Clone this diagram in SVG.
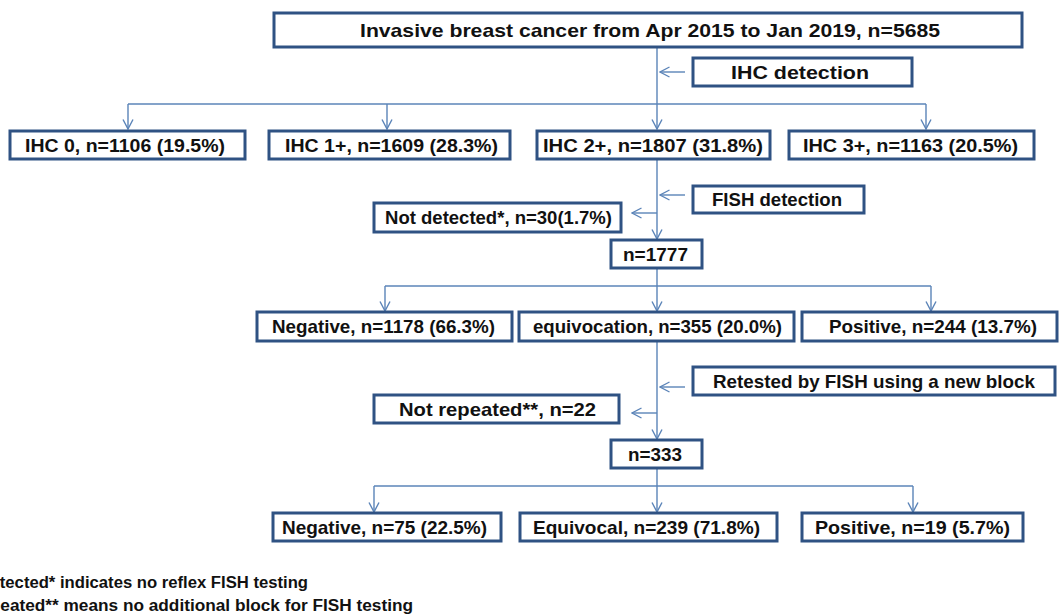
<svg xmlns="http://www.w3.org/2000/svg" width="1059" height="616" viewBox="0 0 1059 616">
  <style>
    .box { fill: #ffffff; stroke: #2F5283; stroke-width: 3; }
    .lbl { font-family: "Liberation Sans Narrow", "Liberation Sans", Arial, sans-serif; font-weight: bold; font-size: 18.5px; fill: #111111; text-anchor: middle; }
    .con { fill: none; stroke: #5B84B8; stroke-width: 1.4; }
    .note { font-family: "Liberation Sans Narrow", "Liberation Sans", Arial, sans-serif; font-weight: bold; font-size: 16px; fill: #111111; }
  </style>
  <defs>
    <marker id="arr" markerUnits="userSpaceOnUse" markerWidth="12" markerHeight="12" viewBox="0 -6 10 12" refX="9.5" refY="0" orient="auto">
      <path d="M0,-5 L9.5,0 L0,5" fill="none" stroke="#5B84B8" stroke-width="1.4"/>
    </marker>
  </defs>
  <rect width="1059" height="616" fill="#ffffff"/>

  <g id="connectors">
    <path class="con" d="M657,47 V104"/>
    <path class="con" d="M685,72 H660" marker-end="url(#arr)"/>
    <path class="con" d="M128,104 H926"/>
    <path class="con" d="M128,104 V129" marker-end="url(#arr)"/>
    <path class="con" d="M387,104 V129" marker-end="url(#arr)"/>
    <path class="con" d="M657,104 V129" marker-end="url(#arr)"/>
    <path class="con" d="M926,104 V129" marker-end="url(#arr)"/>
    <path class="con" d="M657,160 V239" marker-end="url(#arr)"/>
    <path class="con" d="M685,195 H660" marker-end="url(#arr)"/>
    <path class="con" d="M657,213 H632" marker-end="url(#arr)"/>
    <path class="con" d="M657,269 V286"/>
    <path class="con" d="M385,286 H931"/>
    <path class="con" d="M385,286 V311" marker-end="url(#arr)"/>
    <path class="con" d="M657,286 V311" marker-end="url(#arr)"/>
    <path class="con" d="M931,286 V311" marker-end="url(#arr)"/>
    <path class="con" d="M657,342 V439" marker-end="url(#arr)"/>
    <path class="con" d="M685,387 H660" marker-end="url(#arr)"/>
    <path class="con" d="M657,413 H632" marker-end="url(#arr)"/>
    <path class="con" d="M657,469 V486"/>
    <path class="con" d="M374,486 H913"/>
    <path class="con" d="M374,486 V512" marker-end="url(#arr)"/>
    <path class="con" d="M657,486 V512" marker-end="url(#arr)"/>
    <path class="con" d="M913,486 V512" marker-end="url(#arr)"/>
  </g>

  <g id="n-top">
    <rect class="box" x="274" y="13" width="748" height="34"/>
    <text class="lbl" x="650" y="37" font-size="20" textLength="580" lengthAdjust="spacingAndGlyphs">Invasive breast cancer from Apr 2015 to Jan 2019, n=5685</text>
  </g>
  <g id="n-ihcdet">
    <rect class="box" x="693" y="58" width="219" height="28"/>
    <text class="lbl" x="800" y="79" textLength="138" lengthAdjust="spacingAndGlyphs">IHC detection</text>
  </g>
  <g id="n-ihc0">
    <rect class="box" x="10" y="131" width="235" height="28"/>
    <text class="lbl" x="125" y="152" textLength="200" lengthAdjust="spacingAndGlyphs">IHC 0, n=1106 (19.5%)</text>
  </g>
  <g id="n-ihc1">
    <rect class="box" x="269" y="131" width="241" height="28"/>
    <text class="lbl" x="391.5" y="152" textLength="213" lengthAdjust="spacingAndGlyphs">IHC 1+, n=1609 (28.3%)</text>
  </g>
  <g id="n-ihc2">
    <rect class="box" x="537" y="131" width="233" height="28"/>
    <text class="lbl" x="653" y="152" textLength="220" lengthAdjust="spacingAndGlyphs">IHC 2+, n=1807 (31.8%)</text>
  </g>
  <g id="n-ihc3">
    <rect class="box" x="789" y="131" width="245" height="28"/>
    <text class="lbl" x="910.5" y="152" textLength="215" lengthAdjust="spacingAndGlyphs">IHC 3+, n=1163 (20.5%)</text>
  </g>
  <g id="n-fishdet">
    <rect class="box" x="693" y="186" width="171" height="27"/>
    <text class="lbl" x="777" y="206" textLength="130" lengthAdjust="spacingAndGlyphs">FISH detection</text>
  </g>
  <g id="n-notdet">
    <rect class="box" x="374" y="203" width="247" height="29"/>
    <text class="lbl" x="498.5" y="224" textLength="227" lengthAdjust="spacingAndGlyphs">Not detected*, n=30(1.7%)</text>
  </g>
  <g id="n-1777">
    <rect class="box" x="611" y="240" width="91" height="28"/>
    <text class="lbl" x="655.5" y="261" textLength="65" lengthAdjust="spacingAndGlyphs">n=1777</text>
  </g>
  <g id="n-neg1">
    <rect class="box" x="257" y="312" width="255" height="29"/>
    <text class="lbl" x="383.5" y="333" textLength="223" lengthAdjust="spacingAndGlyphs">Negative, n=1178 (66.3%)</text>
  </g>
  <g id="n-equiv1">
    <rect class="box" x="519" y="312" width="275" height="29"/>
    <text class="lbl" x="657.5" y="333" textLength="249" lengthAdjust="spacingAndGlyphs">equivocation, n=355 (20.0%)</text>
  </g>
  <g id="n-pos1">
    <rect class="box" x="802" y="312" width="255" height="29"/>
    <text class="lbl" x="933" y="333" textLength="208" lengthAdjust="spacingAndGlyphs">Positive, n=244 (13.7%)</text>
  </g>
  <g id="n-retest">
    <rect class="box" x="693" y="367" width="362" height="28"/>
    <text class="lbl" x="874" y="388" textLength="322" lengthAdjust="spacingAndGlyphs">Retested by FISH using a new block</text>
  </g>
  <g id="n-notrep">
    <rect class="box" x="374" y="395" width="245" height="28"/>
    <text class="lbl" x="497.5" y="416" textLength="197" lengthAdjust="spacingAndGlyphs">Not repeated**, n=22</text>
  </g>
  <g id="n-333">
    <rect class="box" x="611" y="440" width="91" height="28"/>
    <text class="lbl" x="655" y="461" textLength="54" lengthAdjust="spacingAndGlyphs">n=333</text>
  </g>
  <g id="n-neg2">
    <rect class="box" x="273" y="513" width="228" height="28"/>
    <text class="lbl" x="384.5" y="534" textLength="205" lengthAdjust="spacingAndGlyphs">Negative, n=75 (22.5%)</text>
  </g>
  <g id="n-equiv2">
    <rect class="box" x="520" y="513" width="257" height="28"/>
    <text class="lbl" x="646.5" y="534" textLength="227" lengthAdjust="spacingAndGlyphs">Equivocal, n=239 (71.8%)</text>
  </g>
  <g id="n-pos2">
    <rect class="box" x="802" y="513" width="221" height="28"/>
    <text class="lbl" x="912.5" y="534" textLength="195" lengthAdjust="spacingAndGlyphs">Positive, n=19 (5.7%)</text>
  </g>

  <g id="notes">
    <text class="note" x="-52" y="588" textLength="360" lengthAdjust="spacingAndGlyphs">Not detected* indicates no reflex FISH testing</text>
    <text class="note" x="-60" y="611" textLength="473" lengthAdjust="spacingAndGlyphs">Not repeated** means no additional block for FISH testing</text>
  </g>
</svg>
